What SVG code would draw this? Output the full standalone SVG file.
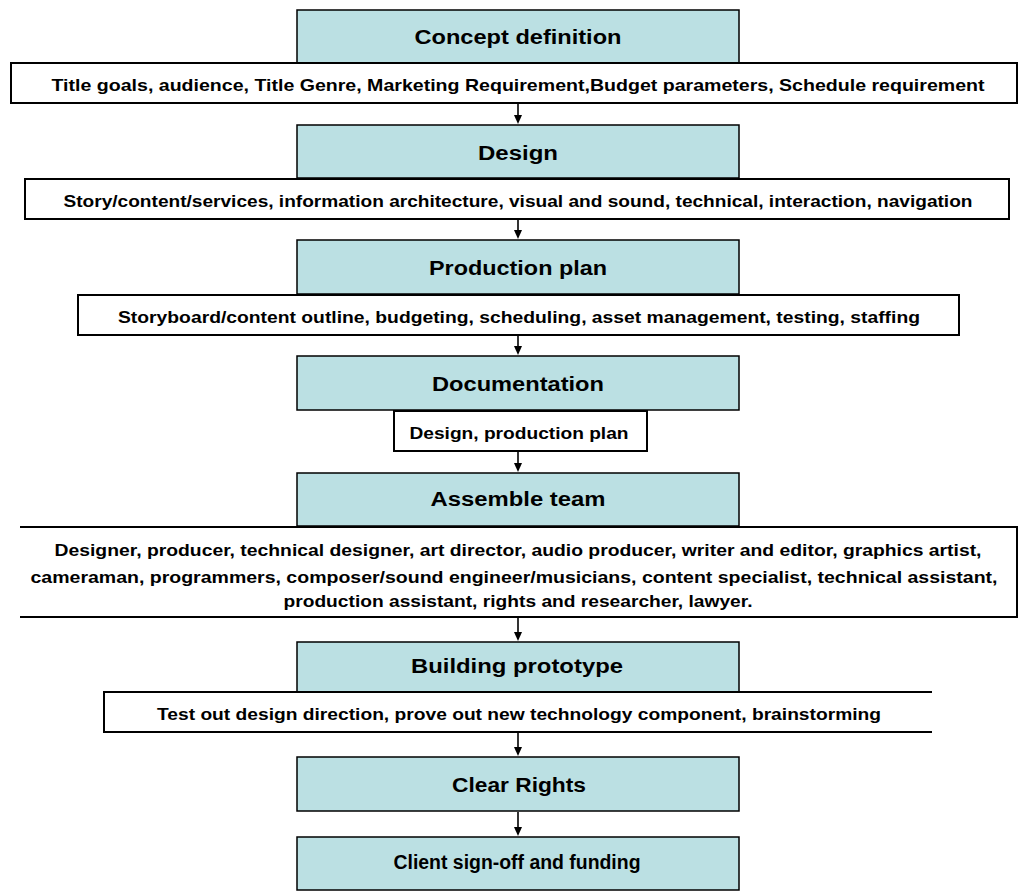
<svg xmlns="http://www.w3.org/2000/svg" width="1019" height="891" viewBox="0 0 1019 891">
<style>
.stage{fill:#BBE0E3;stroke:#000;stroke-width:1.5}
.note{fill:#fff;stroke:#000;stroke-width:2}
.edge{fill:none;stroke:#000;stroke-width:2}
.conn{stroke:#000;stroke-width:1.6;fill:none}
.head{fill:#000}
.t{font-family:"Liberation Sans",Arial,sans-serif;font-weight:bold;fill:#000;text-anchor:middle}
.tt{font-size:20px}
.ts{font-size:17px}
</style>
<rect width="1019" height="891" fill="#fff"/>

<g id="connectors">
<line class="conn" x1="518" y1="104" x2="518" y2="117"/>
<line class="conn" x1="518" y1="220" x2="518" y2="232"/>
<line class="conn" x1="518" y1="336" x2="518" y2="348"/>
<line class="conn" x1="518" y1="452" x2="518" y2="465"/>
<line class="conn" x1="518" y1="618" x2="518" y2="634"/>
<line class="conn" x1="518" y1="733" x2="518" y2="749"/>
<line class="conn" x1="518" y1="812" x2="518" y2="829"/>
<path class="head" d="M514,115 L522,115 L518,124 Z"/>
<path class="head" d="M514,230 L522,230 L518,239 Z"/>
<path class="head" d="M514,346 L522,346 L518,355 Z"/>
<path class="head" d="M514,463 L522,463 L518,472 Z"/>
<path class="head" d="M514,632 L522,632 L518,641 Z"/>
<path class="head" d="M514,747 L522,747 L518,756 Z"/>
<path class="head" d="M514,827 L522,827 L518,836 Z"/>
</g>

<g id="concept">
<rect class="stage" x="297" y="10" width="442" height="53"/>
<text class="t tt" x="518" y="44" textLength="207" lengthAdjust="spacingAndGlyphs">Concept definition</text>
</g>
<g id="concept-notes">
<rect class="note" x="11" y="63" width="1006" height="40"/>
<text class="t ts" x="518" y="91" textLength="933" lengthAdjust="spacingAndGlyphs">Title goals, audience, Title Genre, Marketing Requirement,Budget parameters, Schedule requirement</text>
</g>

<g id="design">
<rect class="stage" x="297" y="125" width="442" height="53"/>
<text class="t tt" x="518" y="160" textLength="80" lengthAdjust="spacingAndGlyphs">Design</text>
</g>
<g id="design-notes">
<rect class="note" x="25" y="179" width="984" height="40"/>
<text class="t ts" x="518" y="207" textLength="909" lengthAdjust="spacingAndGlyphs">Story/content/services, information architecture, visual and sound, technical, interaction, navigation</text>
</g>

<g id="production">
<rect class="stage" x="297" y="240" width="442" height="54"/>
<text class="t tt" x="518" y="275" textLength="178" lengthAdjust="spacingAndGlyphs">Production plan</text>
</g>
<g id="production-notes">
<rect class="note" x="78" y="295" width="881" height="40"/>
<text class="t ts" x="519" y="323" textLength="802" lengthAdjust="spacingAndGlyphs">Storyboard/content outline, budgeting, scheduling, asset management, testing, staffing</text>
</g>

<g id="documentation">
<rect class="stage" x="297" y="356" width="442" height="54"/>
<text class="t tt" x="518" y="391" textLength="172" lengthAdjust="spacingAndGlyphs">Documentation</text>
</g>
<g id="documentation-notes">
<rect class="note" x="394" y="411" width="253" height="40"/>
<text class="t ts" x="519" y="439" textLength="219" lengthAdjust="spacingAndGlyphs">Design, production plan</text>
</g>

<g id="team">
<rect class="stage" x="297" y="473" width="442" height="53"/>
<text class="t tt" x="518" y="506" textLength="175" lengthAdjust="spacingAndGlyphs">Assemble team</text>
</g>
<g id="team-notes">
<rect x="20" y="527" width="997" height="90" fill="#fff"/>
<path class="edge" d="M20,527 L1017,527 L1017,617 L20,617"/>
<text class="t ts" x="518" y="556" textLength="927" lengthAdjust="spacingAndGlyphs">Designer, producer, technical designer, art director, audio producer, writer and editor, graphics artist,</text>
<text class="t ts" x="514" y="583" textLength="967" lengthAdjust="spacingAndGlyphs">cameraman, programmers, composer/sound engineer/musicians, content specialist, technical assistant,</text>
<text class="t ts" x="518" y="607" textLength="469" lengthAdjust="spacingAndGlyphs">production assistant, rights and researcher, lawyer.</text>
</g>

<g id="prototype">
<rect class="stage" x="297" y="642" width="442" height="50"/>
<text class="t tt" x="517" y="673" textLength="212" lengthAdjust="spacingAndGlyphs">Building prototype</text>
</g>
<g id="prototype-notes">
<rect x="104" y="692" width="828" height="40" fill="#fff"/>
<path class="edge" d="M932,692 L104,692 L104,732 L932,732"/>
<text class="t ts" x="519" y="720" textLength="724" lengthAdjust="spacingAndGlyphs">Test out design direction, prove out new technology component, brainstorming</text>
</g>

<g id="rights">
<rect class="stage" x="297" y="757" width="442" height="54"/>
<text class="t tt" x="519" y="792" textLength="134" lengthAdjust="spacingAndGlyphs">Clear Rights</text>
</g>

<g id="signoff">
<rect class="stage" x="297" y="837" width="442" height="53"/>
<text class="t tt" x="517" y="869" textLength="247" lengthAdjust="spacingAndGlyphs">Client sign-off and funding</text>
</g>
</svg>
